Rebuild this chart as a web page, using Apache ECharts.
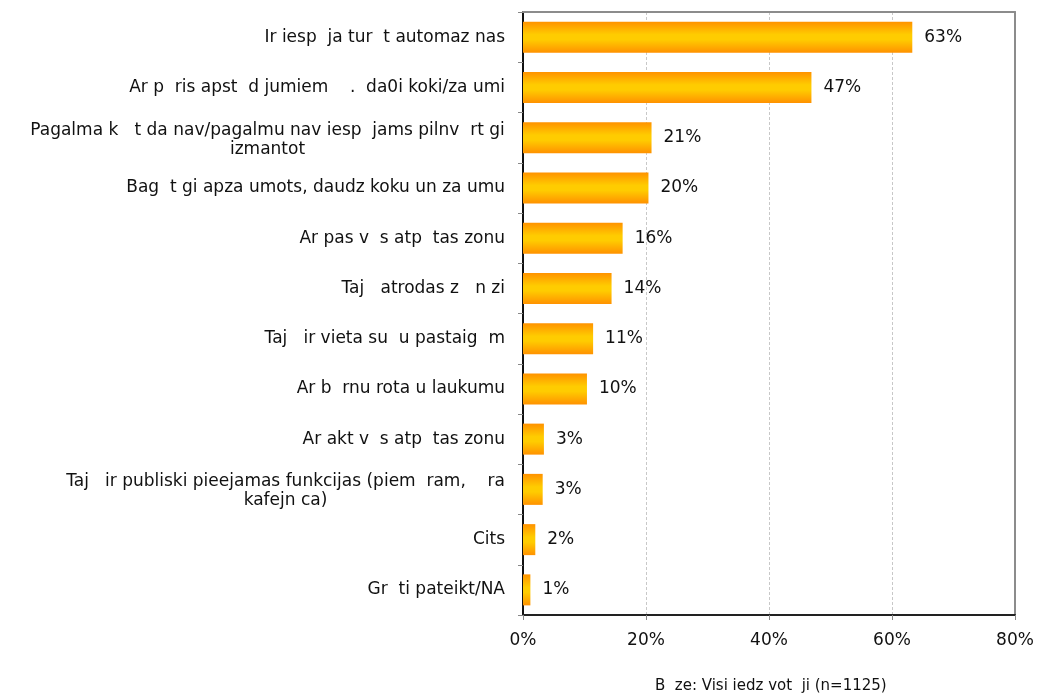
<!DOCTYPE html>
<html>
<head>
<meta charset="utf-8">
<script src="https://cdn.jsdelivr.net/npm/echarts@6/dist/echarts.min.js"></script>
<style>
html,body{margin:0;padding:0;background:#fff;}
#chart{width:1037px;height:698px;}
</style>
</head>
<body>
<div id="chart"></div>
<script>
var categories = [
  "Ir iesp  ja tur  t automaz nas",
  "Ar p  ris apst  d jumiem    .  da0i koki/za umi",
  "Pagalma k   t da nav/pagalmu nav iesp  jams pilnv  rt gi\nizmantot",
  "Bag  t gi apza umots, daudz koku un za umu",
  "Ar pas v  s atp  tas zonu",
  "Taj   atrodas z   n zi",
  "Taj   ir vieta su  u pastaig  m",
  "Ar b  rnu rota u laukumu",
  "Ar akt v  s atp  tas zonu",
  "Taj   ir publiski pieejamas funkcijas (piem  ram,    ra\nkafejn ca)",
  "Cits",
  "Gr  ti pateikt/NA"
];
var values = [63.3, 46.9, 20.9, 20.4, 16.2, 14.4, 11.4, 10.4, 3.4, 3.2, 2.0, 1.2];
var xTicks = [0, 20, 40, 60, 80];
var footnote = "B  ze: Visi iedz vot  ji (n=1125)";

var FONT = '"DejaVu Sans", sans-serif';
var FS = 17;
var measureCtx = document.createElement('canvas').getContext('2d');
measureCtx.font = FS + 'px ' + FONT;

var rich = {};
categories.forEach(function (c) {
  if (c.indexOf('\n') >= 0) {
    var w = Math.round(measureCtx.measureText(c.split('\n')[0]).width);
    rich['c' + w] = {width: w, align: 'center', fontFamily: FONT, fontSize: FS, color: '#111', lineHeight: 19, padding: [4, 0, 0, 0]};
  }
});

var chart = echarts.init(document.getElementById('chart'));
chart.setOption({
  animation: false,
  backgroundColor: '#fff',
  grid: {left: 523, right: 22, top: 12, bottom: 83, containLabel: false},
  xAxis: [{
    type: 'value', min: xTicks[0], max: xTicks[xTicks.length - 1], interval: 20,
    axisLine: {show: true, lineStyle: {color: '#222', width: 2}},
    axisTick: {show: true, length: 5, lineStyle: {color: '#888'}},
    axisLabel: {formatter: '{value}%', fontFamily: FONT, fontSize: FS, color: '#111', margin: 17},
    splitLine: {show: true, lineStyle: {color: '#c8c8c8', type: [3, 2]}}
  }, {
    type: 'value', position: 'top', min: xTicks[0], max: xTicks[xTicks.length - 1], interval: 20,
    axisLine: {show: true, lineStyle: {color: '#8c8c8c', width: 2}},
    axisTick: {show: false}, axisLabel: {show: false}, splitLine: {show: false}
  }],
  yAxis: [{
    type: 'category', data: categories, inverse: true,
    axisLine: {show: true, onZero: false, lineStyle: {color: '#111', width: 2}},
    axisTick: {show: true, length: 5, lineStyle: {color: '#888'}},
    axisLabel: {
      fontFamily: FONT, fontSize: FS, color: '#111', margin: 18, lineHeight: 19,
      formatter: function (v) {
        if (v.indexOf('\n') < 0) return v;
        var lines = v.split('\n');
        var w = Math.round(measureCtx.measureText(lines[0]).width);
        return lines.map(function (l) { return '{c' + w + '|' + l + '}'; }).join('\n');
      },
      rich: rich
    }
  }, {
    type: 'category', data: categories, inverse: true, position: 'right',
    axisLine: {show: true, onZero: false, lineStyle: {color: '#8c8c8c', width: 2}},
    axisTick: {show: false}, axisLabel: {show: false}, splitLine: {show: false}
  }],
  series: [{
    type: 'bar', data: values, barWidth: 31, xAxisIndex: 0, yAxisIndex: 0,
    itemStyle: {color: new echarts.graphic.LinearGradient(0, 0, 0, 1, [
      {offset: 0, color: '#ff9200'}, {offset: 0.42, color: '#ffcc00'}, {offset: 0.58, color: '#ffcc00'}, {offset: 1, color: '#ff9200'}
    ])},
    label: {show: true, position: 'right', distance: 12, fontFamily: FONT, fontSize: FS, color: '#111',
      formatter: function (p) { return Math.round(p.value) + '%'; }}
  }],
  graphic: [{type: 'text', left: 655, top: 679, style: {text: footnote, font: '15px ' + FONT, fill: '#111'}}]
});
</script>
</body>
</html>
